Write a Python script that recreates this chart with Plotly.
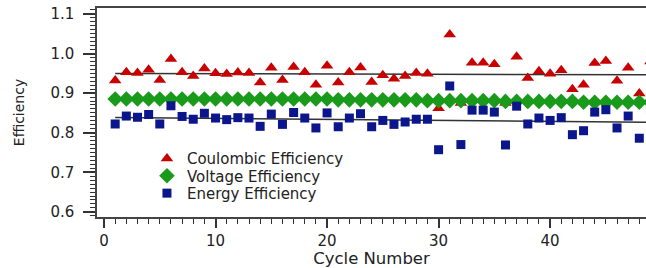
import numpy as np
import plotly.graph_objects as go

cycles = list(range(1, 50))
coulombic = [0.932, 0.953, 0.951, 0.959, 0.933, 0.986, 0.953, 0.943, 0.962, 0.950,
             0.948, 0.952, 0.951, 0.927, 0.964, 0.933, 0.966, 0.953, 0.921, 0.969,
             0.927, 0.953, 0.965, 0.928, 0.945, 0.936, 0.943, 0.951, 0.949, 0.862,
             1.048, 0.875, 0.977, 0.977, 0.973, 0.875, 0.992, 0.938, 0.955, 0.949,
             0.958, 0.910, 0.921, 0.976, 0.981, 0.931, 0.964, 0.899, 0.980]
voltage = [0.885] * 20 + [0.883] * 8 + [0.881] * 7 + [0.879] * 7 + [0.877] * 7
energy = [0.822, 0.842, 0.839, 0.846, 0.822, 0.868, 0.841, 0.834, 0.849, 0.837,
          0.833, 0.838, 0.837, 0.816, 0.847, 0.821, 0.851, 0.837, 0.812, 0.850,
          0.815, 0.837, 0.848, 0.815, 0.831, 0.821, 0.827, 0.834, 0.834, 0.757,
          0.918, 0.770, 0.857, 0.857, 0.852, 0.769, 0.867, 0.822, 0.837, 0.831,
          0.838, 0.795, 0.805, 0.852, 0.858, 0.812, 0.842, 0.786, 0.858]

x_ticks = [0, 10, 20, 30, 40]
y_ticks = [0.6, 0.7, 0.8, 0.9, 1.0, 1.1]
y_tick_text = ["0.6", "0.7", "0.8", "0.9", "1.0", "1.1"]

FONT = "DejaVu Sans, Arial, sans-serif"
RED = "#c80000"
GREEN = "#1a9a1a"
BLUE = "#0c168c"

x_arr = np.array(cycles, dtype=float)
ce_fit = np.polyval(np.polyfit(x_arr, coulombic, 1), x_arr)
ee_fit = np.polyval(np.polyfit(x_arr, energy, 1), x_arr)

fig = go.Figure()
fig.add_trace(go.Scatter(x=cycles, y=ce_fit, mode="lines", line=dict(color="#333333", width=1.5),
                         showlegend=False, hoverinfo="skip"))
fig.add_trace(go.Scatter(x=cycles, y=ee_fit, mode="lines", line=dict(color="#333333", width=1.5),
                         showlegend=False, hoverinfo="skip"))
fig.add_trace(go.Scatter(x=cycles, y=coulombic, mode="markers", name="Coulombic Efficiency",
                         marker=dict(symbol="triangle-up", size=11, color=RED), legend="legend"))
fig.add_trace(go.Scatter(x=cycles, y=voltage, mode="markers", name="Voltage Efficiency",
                         marker=dict(symbol="diamond", size=12, color=GREEN), legend="legend2"))
fig.add_trace(go.Scatter(x=cycles, y=energy, mode="markers", name="Energy Efficiency",
                         marker=dict(symbol="square", size=9, color=BLUE), legend="legend3"))

leg_common = dict(xanchor="left", yanchor="middle", bgcolor="rgba(0,0,0,0)",
                  font=dict(family=FONT, size=15, color="#222222"), itemsizing="trace")
fig.update_layout(
    width=646, height=268,
    margin=dict(l=97, r=0, t=8, b=51, autoexpand=False),
    paper_bgcolor="white", plot_bgcolor="white",
    font=dict(family=FONT, color="#222222"),
    legend=dict(x=0.091, y=0.279, **leg_common),
    legend2=dict(x=0.091, y=0.196, **leg_common),
    legend3=dict(x=0.091, y=0.113, **leg_common),
    xaxis=dict(range=[-0.63, 48.6], tickvals=x_ticks, ticks="outside", ticklen=9, tickwidth=1.5,
               automargin=False,
               tickcolor="#333333", showline=True, linecolor="#444444", linewidth=1.5, mirror=True,
               showgrid=False, zeroline=False, tickfont=dict(family=FONT, size=15, color="#222222"),
               ticklabelstandoff=0,
               minor=dict(dtick=1, tick0=0, ticks="outside", ticklen=5, tickwidth=1.2, tickcolor="#333333"),
               title=dict(text="Cycle Number", font=dict(family=FONT, size=16.5, color="#222222"), standoff=9)),
    yaxis=dict(range=[0.587, 1.115], tickvals=y_ticks, ticktext=y_tick_text, ticks="outside", ticklen=12,
               automargin=False,
               tickwidth=1.5, tickcolor="#333333", showline=True, linecolor="#444444", linewidth=1.5,
               showgrid=False, zeroline=False, tickfont=dict(family=FONT, size=15, color="#222222"),
               ticklabelstandoff=6,
               minor=dict(dtick=0.01, tick0=0.6, ticks="outside", ticklen=5, tickwidth=1.2, tickcolor="#333333"),
               title=dict(text="Efficiency", font=dict(family=FONT, size=14, color="#222222"), standoff=22)),
)

fig.write_html("out.html", config={"displayModeBar": False},
               post_script="document.body.style.margin='0px';document.body.style.overflow='hidden';")
